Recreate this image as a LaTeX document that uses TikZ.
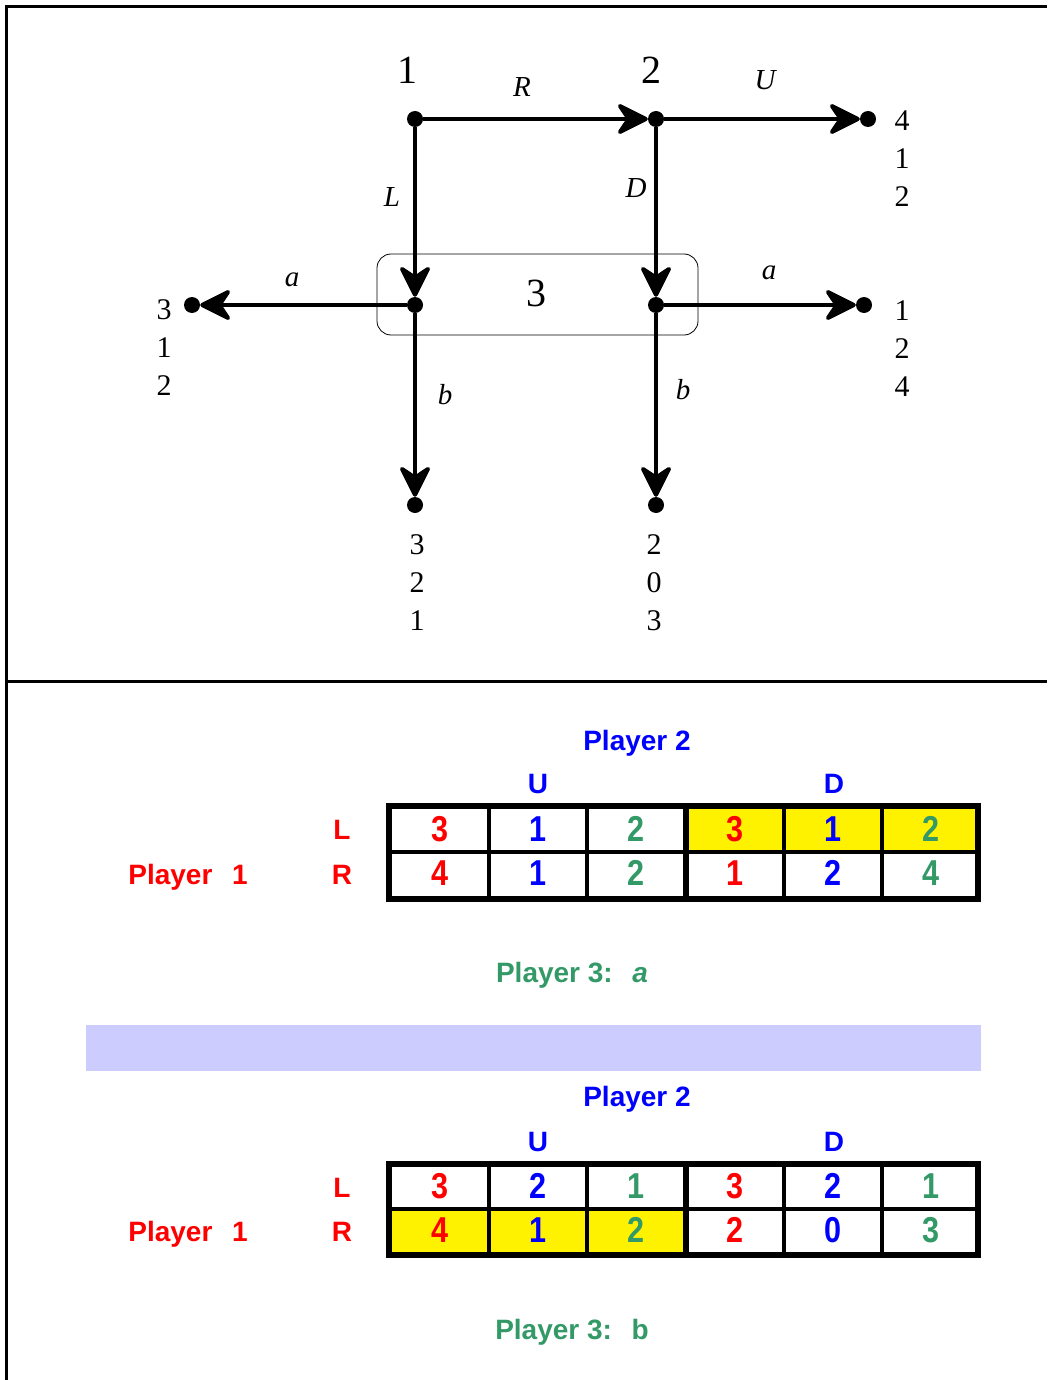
\documentclass[tikz,border=0pt]{standalone}
\usepackage{graphicx}
\usepackage{fontspec}
\setmainfont{Liberation Serif}
\setsansfont{Liberation Sans}
\usetikzlibrary{arrows.meta}

\definecolor{pred}{RGB}{255,0,0}
\definecolor{pblue}{RGB}{0,0,255}
\definecolor{pgreen}{RGB}{51,153,102}
\definecolor{lav}{RGB}{204,204,255}

\tikzset{
  dot/.style={circle,fill=black,inner sep=0pt,minimum size=16pt},
  edge/.style={line width=4pt,-{Stealth[length=36pt,width=36pt,inset=12pt,round]}},
  movelbl/.style={font=\fontsize{29}{32}\selectfont\itshape,inner sep=0pt},
  playnum/.style={font=\fontsize{40}{44}\selectfont,inner sep=0pt},
  pay/.style={font=\fontsize{30}{38}\selectfont,inner sep=0pt,align=center},
  hdr/.style={font=\sffamily\bfseries\fontsize{28}{32}\selectfont,inner sep=0pt,anchor=base},
  cellnum/.style={font=\sffamily\bfseries\fontsize{36}{40}\selectfont,inner sep=0pt}
}

\begin{document}
\begin{tikzpicture}[x=1pt,y=-1pt]
  \useasboundingbox (0,0) rectangle (1047,1380);

  % frame
  \draw[line width=3pt] (1047,7) -- (6,7) -- (6,1380);
  \draw[line width=3pt] (6,681) -- (1047,681);

  % decision nodes and end points
  \node[dot] (n1) at (415,119) {};
  \node[dot] (n2) at (656,119) {};
  \node[dot] (n3l) at (415,305) {};
  \node[dot] (n3r) at (656,305) {};
  \node[dot] (tU) at (868,119) {};
  \node[dot] (tla) at (192,305) {};
  \node[dot] (tra) at (864,305) {};
  \node[dot] (tlb) at (415,505) {};
  \node[dot] (trb) at (656,505) {};

  % information set of player 3
  \draw[line width=0.8pt,rounded corners=14pt] (377,254) rectangle (698,335);
  \node[playnum] (p3) at (536,293) {3};

  % moves
  \draw[edge] (n1) -- (n2);
  \draw[edge] (n2) -- (tU);
  \draw[edge] (n1) -- (n3l);
  \draw[edge] (n2) -- (n3r);
  \draw[edge] (n3l) -- (tla);
  \draw[edge] (n3r) -- (tra);
  \draw[edge] (n3l) -- (tlb);
  \draw[edge] (n3r) -- (trb);

  % player numbers
  \node[playnum] (p1) at (407,70) {1};
  \node[playnum] (p2) at (651,70) {2};

  % move labels
  \node[movelbl] (mR) at (522,87) {R};
  \node[movelbl] (mU) at (765,80) {U};
  \node[movelbl] (mL) at (392,197) {L};
  \node[movelbl] (mD) at (636,188) {D};
  \node[movelbl] (mal) at (292,280) {a};
  \node[movelbl] (mar) at (769,273) {a};
  \node[movelbl] (mbl) at (445,395) {b};
  \node[movelbl] (mbr) at (683,390) {b};

  % payoffs
  \node[pay] (vU) at (902,159) {4\\1\\2};
  \node[pay] (vla) at (164,348) {3\\1\\2};
  \node[pay] (vra) at (902,349) {1\\2\\4};
  \node[pay] (vlb) at (417,583) {3\\2\\1};
  \node[pay] (vrb) at (654,583) {2\\0\\3};

  % strategic form, player 3 plays a
  \node[hdr,text=pblue] (h2a) at (637,750) {Player 2};
  \node[hdr,text=pblue] (hUa) at (538,793) {U};
  \node[hdr,text=pblue] (hDa) at (834,793) {D};
  \node[hdr,text=pred] (hLa) at (342,839) {L};
  \node[hdr,text=pred] (hRa) at (342,884) {R};
  \node[hdr,text=pred] (h1a) at (188,884) {Player\hspace{0.7em}1};
  \node[hdr,text=pgreen] (h3a) at (572,982) {Player 3:\hspace{0.7em}\textit{a}};

  % separator band
  \fill[lav] (86,1025) rectangle (981,1071);

  % strategic form, player 3 plays b
  \node[hdr,text=pblue] (h2b) at (637,1106) {Player 2};
  \node[hdr,text=pblue] (hUb) at (538,1151) {U};
  \node[hdr,text=pblue] (hDb) at (834,1151) {D};
  \node[hdr,text=pred] (hLb) at (342,1197) {L};
  \node[hdr,text=pred] (hRb) at (342,1241) {R};
  \node[hdr,text=pred] (h1b) at (188,1241) {Player\hspace{0.7em}1};
  \node[hdr,text=pgreen] (h3b) at (572,1339) {Player 3:\hspace{0.7em}b};

  % tables
  \fill[black] (386,803) rectangle (981,902);
  \fill[black] (386,1161) rectangle (981,1258);
  \foreach \l/\r in {392/487,491/585,589/683,689/782,786/880,884/975}{
    \fill[white] (\l,809) rectangle (\r,850);
    \fill[white] (\l,854) rectangle (\r,896);
    \fill[white] (\l,1167) rectangle (\r,1207);
    \fill[white] (\l,1211) rectangle (\r,1252);
  }
  \foreach \l/\r in {689/782,786/880,884/975}
    \fill[yellow] (\l,809) rectangle (\r,850);
  \foreach \l/\r in {392/487,491/585,589/683}
    \fill[yellow] (\l,1211) rectangle (\r,1252);

  \foreach \x/\c/\a/\b/\p/\q in {440/pred/3/4/3/4, 538/pblue/1/1/2/1,
      636/pgreen/2/2/1/2, 735/pred/3/1/3/2, 833/pblue/1/2/2/0, 931/pgreen/2/4/1/3}{
    \node[cellnum,text=\c] (ga\x) at (\x,829) {\scalebox{0.85}[1]{\a}};
    \node[cellnum,text=\c] (gb\x) at (\x,873) {\scalebox{0.85}[1]{\b}};
    \node[cellnum,text=\c] (ha\x) at (\x,1186) {\scalebox{0.85}[1]{\p}};
    \node[cellnum,text=\c] (hb\x) at (\x,1230) {\scalebox{0.85}[1]{\q}};
  }
\end{tikzpicture}
\end{document}
